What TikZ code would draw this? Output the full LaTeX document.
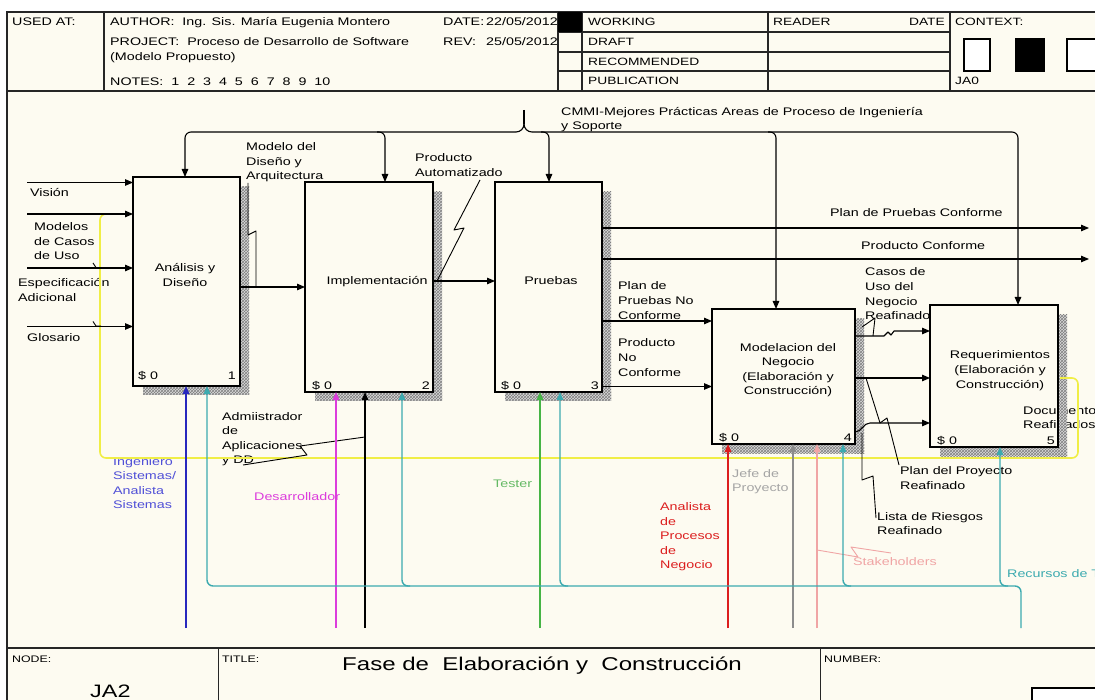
\documentclass[tikz,border=0pt]{standalone}
\usepackage{fontspec}
\setmainfont{Liberation Sans}[FakeStretch=1.3]
\usetikzlibrary{arrows.meta,patterns}
\pgfdeclarelayer{back}
\pgfdeclarelayer{mid}
\pgfsetlayers{back,mid,main}
\definecolor{cream}{RGB}{253,251,241}
\definecolor{cblue}{RGB}{40,40,190}
\definecolor{tblue}{RGB}{80,80,215}
\definecolor{cteal}{RGB}{60,170,175}
\definecolor{cmag}{RGB}{220,60,220}
\definecolor{cgreen}{RGB}{70,180,70}
\definecolor{tgreen}{RGB}{100,185,100}
\definecolor{cred}{RGB}{220,30,30}
\definecolor{cgray}{RGB}{140,140,140}
\definecolor{tgray}{RGB}{165,165,165}
\definecolor{cpink}{RGB}{240,165,165}
\definecolor{cyel}{RGB}{240,238,70}
\tikzset{
  tx/.style={font=\fontsize{11}{14.6}\selectfont, align=left, inner sep=0pt, anchor=base west},
  ctx/.style={font=\fontsize{11}{14.6}\selectfont, align=center, inner sep=0pt, anchor=base},
  hd/.style={font=\fontsize{10.6}{13}\selectfont, inner sep=0pt, anchor=base west},
  ft/.style={font=\fontsize{9.5}{11}\selectfont, inner sep=0pt, anchor=base west},
  abox/.style={draw, line width=2.4pt, inner sep=0pt, outer sep=0pt},
  ln/.style={line width=1.1pt, line join=round},
  arr/.style={ln, -{Triangle[length=8pt,width=6.5pt]}},
  mech/.style={line width=1.4pt, -{Triangle[length=8pt,width=6.5pt]}},
  fr/.style={line width=1.4pt, draw=black!85},
  shad/.style={fill=black!14, postaction={pattern=crosshatch, pattern color=black!50}},
  lead/.style={line width=0.9pt, line join=round},
  yel/.style={line width=1.6pt, draw=cyel},
}
\begin{document}
\begin{tikzpicture}[x=1pt,y=-1pt]
\useasboundingbox (0,0) rectangle (1095,700);
\clip (0,0) rectangle (1095,700);
\begin{pgfonlayer}{back}
  \fill[white] (0,0) rectangle (1095,700);
  \fill[cream] (7,12) rectangle (1100,705);
  \node[tx] (ldoc) at (1023,428.6) {Documentos\\Reafinados};
\end{pgfonlayer}

% ---------- frame / header ----------
\draw[fr] (7,705) -- (7,12) -- (1100,12);
\draw[fr] (7,91) -- (1100,91);
\draw[fr] (7,648) -- (1100,648);
\draw[fr] (104,12) -- (104,91);
\draw[fr] (558,12) -- (558,91);
\draw[fr] (582,12) -- (582,91);
\draw[fr] (768,12) -- (768,91);
\draw[fr] (950,12) -- (950,91);
\draw[fr] (558,32) -- (950,32);
\draw[fr] (558,52) -- (950,52);
\draw[fr] (558,71) -- (950,71);
\node[tx] (hused) at (12,26) {USED AT:};
\node[tx] (hauth) at (110,26) {AUTHOR:\ \ Ing. Sis. María Eugenia Montero};
\node[tx] (hproj) at (110,46) {PROJECT:\ \ Proceso de Desarrollo de Software};
\node[tx] (hmod) at (110,61) {(Modelo Propuesto)};
\node[tx] (hnotes) at (110,86) {NOTES:\ \ 1\ \ 2\ \ 3\ \ 4\ \ 5\ \ 6\ \ 7\ \ 8\ \ 9\ \ 10};
\node[tx] (hdate) at (443,26) {DATE:};
\node[tx] (hdatev) at (486,26) {22/05/2012};
\node[tx] (hrev) at (443,46) {REV:};
\node[tx] (hrevv) at (486,46) {25/05/2012};
\fill (558,12) rectangle (582,32);
\node[hd] (hwork) at (588,26) {WORKING};
\node[hd] (hdraft) at (588,46) {DRAFT};
\node[hd] (hrec) at (588,66) {RECOMMENDED};
\node[hd] (hpub) at (588,85) {PUBLICATION};
\node[hd] (hread) at (773,26) {READER};
\node[hd, anchor=base east] (hrdate) at (945,26) {DATE};
\node[hd] (hctx) at (955,26) {CONTEXT:};
\node[hd] (hja0) at (955,85) {JA0};
\draw[line width=1.2pt, fill=white] (964,39) rectangle (990,71);
\draw[line width=1.2pt, fill=black] (1016,39) rectangle (1044,71);
\draw[line width=1.2pt, fill=white] (1067,39) rectangle (1105,71);

% ---------- footer ----------
\draw[fr] (218.5,648) -- (218.5,705);
\draw[fr] (820.5,648) -- (820.5,705);
\node[ft] (fnode) at (12,662) {NODE:};
\node[ft] (ftitle) at (222,662) {TITLE:};
\node[ft] (fnum) at (824,662) {NUMBER:};
\node[inner sep=0pt, anchor=base west, font=\fontsize{18}{20}\selectfont] (fja2) at (90,697) {JA2};
\node[inner sep=0pt, anchor=base west, font=\fontsize{18.5}{20}\selectfont] (ftit) at (342,670) {Fase de\ \ Elaboración y\ \ Construcción};
\draw[line width=1.2pt, fill=white] (1032,688) rectangle (1105,710);

% ---------- labels (y = baseline of last line) ----------
\node[tx] (lvis) at (30,196.5) {Visión};
\node[tx] (lmod) at (34,259.7) {Modelos\\de Casos\\de Uso};
\node[tx] (lesp) at (18,301.6) {Especificación\\Adicional};
\node[tx] (lglo) at (27,342) {Glosario};
\node[tx] (lmdd) at (246,179.7) {Modelo del\\Diseño y\\Arquitectura};
\node[tx] (lpa) at (415,176.1) {Producto\\Automatizado};
\node[tx, font=\fontsize{11}{13.4}\selectfont] (lcmmi) at (561,129.4) {CMMI-Mejores Prácticas Areas de Proceso de Ingeniería\\y Soporte};
\node[tx] (lppc) at (830,217) {Plan de Pruebas Conforme};
\node[tx] (lpc) at (861,249.5) {Producto Conforme};
\node[tx] (lppnc) at (618,319.2) {Plan de\\Pruebas No\\Conforme};
\node[tx] (lpnc) at (618,376.2) {Producto\\No\\Conforme};
\node[tx] (lcasos) at (865,319.8) {Casos de\\Uso del\\Negocio\\Reafinado};
\node[tx] (lplan) at (900,489.1) {Plan del Proyecto\\Reafinado};
\node[tx] (llista) at (877,534.6) {Lista de Riesgos\\Reafinado};
\node[tx, text=tblue] (ling) at (113,508.8) {Ingeniero\\Sistemas/\\Analista\\Sistemas};
\node[tx] (ladm) at (222,463.8) {Admiistrador\\de\\Aplicaciones\\y DD};
\node[tx, text=cmag] (ldes) at (254,500.5) {Desarrollador};
\node[tx, text=tgreen] (ltes) at (493,487) {Tester};
\node[tx, text=cred] (lana) at (660,568.9) {Analista\\de\\Procesos\\de\\Negocio};
\node[tx, text=tgray] (ljefe) at (732,491.6) {Jefe de\\Proyecto};
\node[tx, text=cpink] (lstk) at (853,565.5) {Stakeholders};
\node[tx, text=cteal] (lrec) at (1007,577) {Recursos de TI};

% ---------- activity boxes ----------
\node[abox, minimum width=107pt, minimum height=209pt] (b1) at (186.5,281.5) {};
\node[abox, minimum width=128pt, minimum height=210pt] (b2) at (369,287) {};
\node[abox, minimum width=107pt, minimum height=210pt] (b3) at (548.5,287) {};
\node[abox, minimum width=143pt, minimum height=135pt] (b4) at (783.5,376.5) {};
\node[abox, minimum width=128pt, minimum height=142pt] (b5) at (994,376) {};
\begin{pgfonlayer}{mid}
\foreach \b in {b1,b2,b3,b4,b5}{
  \fill[shad] ([xshift=10pt]\b.south west) rectangle ([xshift=9pt,yshift=-9pt]\b.south east);
  \fill[shad] ([yshift=-10pt]\b.north east) rectangle ([xshift=9pt,yshift=-9pt]\b.south east);
}
\end{pgfonlayer}
\node[ctx] (t1) at (185,286.6) {Análisis y\\Diseño};
\node[ctx] (t2) at (377,285) {Implementación};
\node[ctx] (t3) at (551,285) {Pruebas};
\node[ctx] (t4) at (788,394.8) {Modelacion del\\Negocio\\(Elaboración y\\Construcción)};
\node[ctx] (t5) at (1000,388.2) {Requerimientos\\(Elaboración y\\Construcción)};
\node[tx] (c1) at (138,380) {\$ 0};
\node[tx, anchor=base east] (n1) at (236,380) {1};
\node[tx] (c2) at (312,390) {\$ 0};
\node[tx, anchor=base east] (n2) at (430,390) {2};
\node[tx] (c3) at (501,390) {\$ 0};
\node[tx, anchor=base east] (n3) at (599,390) {3};
\node[tx] (c4) at (719,441) {\$ 0};
\node[tx, anchor=base east] (n4) at (852,441) {4};
\node[tx] (c5) at (937,444) {\$ 0};
\node[tx, anchor=base east] (n5) at (1055,444) {5};

% ---------- yellow feedback ----------
\draw[yel, rounded corners=6pt] (1060,378) -- (1078,378) -- (1078,458) -- (100,458) -- (100,214) -- (112,214);

% ---------- inputs ----------
\coordinate (i1) at (27,182.5);
\coordinate (i2) at (27,214);
\coordinate (i3) at (27,268);
\coordinate (i4) at (27,326.5);
\draw[arr] (i1) -- (i1 -| b1.west);
\draw[arr] (i2) -- (i2 -| b1.west);
\draw[arr] (i3) -- (i3 -| b1.west);
\draw[arr] (i4) -- (i4 -| b1.west);
\draw[lead] (93,263) -- (96,267.5) -- (101,267.5);
\draw[lead] (93,321.5) -- (96,326) -- (101,326);

% ---------- controls ----------
\coordinate (cs) at (524,110);
\coordinate (cf) at (524,124);
\coordinate (k1) at (185,132);
\coordinate (k2) at (385,132);
\coordinate (k3) at (549,132);
\coordinate (k4) at (776,132);
\coordinate (k5) at (1018,132);
\draw[ln] (cs) -- (cf);
\draw[ln] (cf) to[out=-90,in=0] (516,132);
\draw[ln] (cf) to[out=-90,in=180] (532,132);
\draw[arr, rounded corners=6pt] (516,132) -- (k1) -- (k1 |- b1.north);
\draw[arr, rounded corners=6pt] (377,132) -- (k2) -- (k2 |- b2.north);
\draw[arr, rounded corners=6pt] (532,132) -- (k5) -- (k5 |- b5.north);
\draw[arr, rounded corners=6pt] (541,132) -- (k3) -- (k3 |- b3.north);
\draw[arr, rounded corners=6pt] (768,132) -- (k4) -- (k4 |- b4.north);

% ---------- outputs ----------
\coordinate (o12) at (270,287);
\coordinate (o23) at (460,281);
\coordinate (o3a) at (1089,228);
\coordinate (o3b) at (1089,259);
\coordinate (o34a) at (650,321);
\coordinate (o34b) at (650,386.5);
\draw[arr] (o12 -| b1.east) -- (o12 -| b2.west);
\draw[arr] (o23 -| b2.east) -- (o23 -| b3.west);
\draw[arr] (o3a -| b3.east) -- (o3a);
\draw[arr] (o3b -| b3.east) -- (o3b);
\draw[arr] (o34a -| b3.east) -- (o34a -| b4.west);
\draw[arr] (o34b -| b3.east) -- (o34b -| b4.west);
\coordinate (p1) at (884,336);
\coordinate (p1b) at (900,331);
\coordinate (p2) at (900,378);
\coordinate (p3s) at (860,432);
\coordinate (p3) at (900,423);
\draw[arr] (p1 -| b4.east) -- (p1) -- (888,332) -- (891,335) -- (894,331) -- (p1b -| b5.west);
\draw[arr] (p2 -| b4.east) -- (p2 -| b5.west);
\draw[arr] (p3s -| b4.east) to[out=0,in=180] (870,423) -- (p3 -| b5.west);

% ---------- leaders ----------
\draw[lead] (248,183) -- (248,235) -- (256,231) -- (256,287);
\draw[lead] (480,180) -- (454,230) -- (464,228) -- (437,281);
\draw[lead] (862,327) -- (875,318) -- (873,336);
\draw[lead] (866,378) -- (880,423) -- (887,418) -- (899,465);
\draw[lead] (862,433) -- (862,480) -- (873,476) -- (876,518);
\draw[lead] (365,437) -- (300,446) -- (307,455) -- (243,465);
\draw[lead, draw=cpink] (817,550) -- (858,557) -- (851,547) -- (891,553);

% ---------- mechanisms ----------
\coordinate (m1) at (186,628);
\coordinate (m2) at (336,628);
\coordinate (m3) at (365,628);
\coordinate (m4) at (540,628);
\coordinate (m5) at (728,628);
\coordinate (m6) at (793,628);
\coordinate (m7) at (817,628);
\coordinate (tb) at (1021,628);
\draw[mech, draw=cblue] (m1) -- (m1 |- b1.south);
\draw[mech, draw=cmag] (m2) -- (m2 |- b2.south);
\draw[mech, draw=black] (m3) -- (m3 |- b2.south);
\draw[mech, draw=cgreen] (m4) -- (m4 |- b3.south);
\draw[mech, draw=cred] (m5) -- (m5 |- b4.south);
\draw[mech, draw=cgray] (m6) -- (m6 |- b4.south);
\draw[mech, draw=cpink] (m7) -- (m7 |- b4.south);
\coordinate (q1) at (207,586);
\coordinate (q2) at (402,586);
\coordinate (q3) at (560,586);
\coordinate (q4) at (843,586);
\coordinate (q5) at (1000,586);
\draw[mech, draw=cteal, rounded corners=6pt] (tb) -- (1021,586) -- (q1) -- (q1 |- b1.south);
\draw[mech, draw=cteal, rounded corners=6pt] (410,586) -- (q2) -- (q2 |- b2.south);
\draw[mech, draw=cteal, rounded corners=6pt] (568,586) -- (q3) -- (q3 |- b3.south);
\draw[mech, draw=cteal, rounded corners=6pt] (851,586) -- (q4) -- (q4 |- b4.south);
\draw[mech, draw=cteal, rounded corners=6pt] (1008,586) -- (q5) -- (q5 |- b5.south);
\end{tikzpicture}
\end{document}
